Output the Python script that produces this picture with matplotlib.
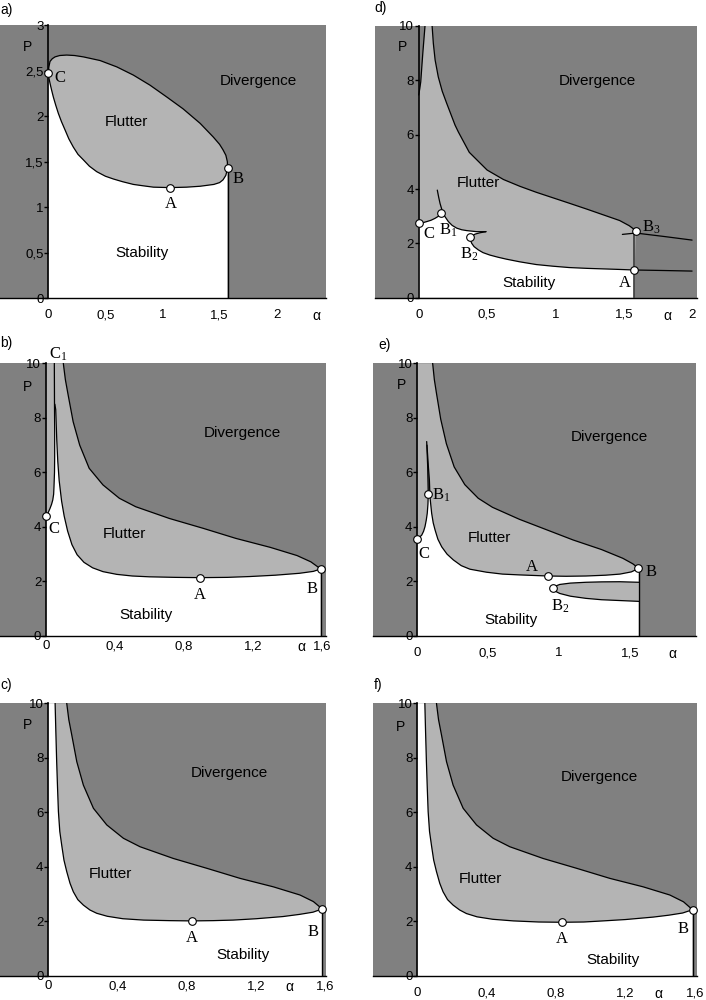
import matplotlib
matplotlib.use('Agg')
import matplotlib.pyplot as plt
from matplotlib.transforms import blended_transform_factory

plt.rcParams['font.family'] = ['Liberation Sans', 'DejaVu Sans']
plt.rcParams['mathtext.fontset'] = 'custom'
plt.rcParams['mathtext.rm'] = 'Liberation Serif'
plt.rcParams['mathtext.it'] = 'Liberation Serif:italic'

DARK = '#808080'
LIGHT = '#b4b4b4'
SERIF = 'Liberation Serif'

# ---------------- data (alpha, P) ----------------
# a)
a_up_alpha = [0.0, 0.005, 0.015, 0.035, 0.059, 0.1, 0.161, 0.23, 0.307, 0.453, 0.6, 0.745,
              0.89, 1.037, 1.18, 1.33, 1.445, 1.5, 1.53, 1.555, 1.568, 1.57]
a_up_P = [2.47, 2.54, 2.6, 2.63, 2.65, 2.665, 2.67, 2.665, 2.65, 2.61, 2.54, 2.45,
          2.34, 2.21, 2.08, 1.92, 1.77, 1.69, 1.63, 1.57, 1.5, 1.43]
a_lo_alpha = [0.0, 0.005, 0.015, 0.028, 0.044, 0.065, 0.088, 0.115, 0.146, 0.18, 0.219, 0.26,
              0.307, 0.36, 0.424, 0.5, 0.569, 0.65, 0.745, 0.83, 0.92, 1.066, 1.212, 1.33,
              1.45, 1.5, 1.53, 1.555, 1.57]
a_lo_P = [2.47, 2.42, 2.36, 2.29, 2.21, 2.12, 2.03, 1.94, 1.85, 1.75, 1.66, 1.58,
          1.52, 1.45, 1.39, 1.34, 1.31, 1.28, 1.25, 1.235, 1.22, 1.215, 1.22, 1.23,
          1.25, 1.27, 1.30, 1.35, 1.43]
a_pt_alpha = [1.066, 1.57, 0.0]
a_pt_P = [1.215, 1.43, 2.47]

# b)
b_up_alpha = [0.1, 0.112, 0.128, 0.157, 0.195, 0.25, 0.33, 0.425, 0.52, 0.715, 0.91, 1.1,
              1.3, 1.455, 1.535, 1.592]
b_up_P = [10, 9.4, 8.84, 7.86, 7.0, 6.15, 5.54, 5.05, 4.74, 4.31, 3.95, 3.58,
          3.25, 2.95, 2.72, 2.46]
b_c_alpha = [0.0, 0.012, 0.023, 0.032, 0.039, 0.044, 0.046, 0.049, 0.05, 0.05, 0.049, 0.048]
b_c_P = [4.4, 4.52, 4.68, 4.83, 4.99, 5.2, 5.47, 6.0, 6.57, 7.5, 8.41, 10]
b_lo_alpha = [0.051, 0.056, 0.062, 0.068, 0.076, 0.09, 0.105, 0.125, 0.15, 0.18, 0.22, 0.27,
              0.33, 0.41, 0.5, 0.6, 0.75, 0.893, 1.05, 1.18, 1.33, 1.47, 1.55, 1.592]
b_lo_P = [8.5, 8.3, 7.2, 6.4, 5.7, 4.95, 4.4, 3.85, 3.35, 2.98, 2.7, 2.5,
          2.36, 2.26, 2.2, 2.17, 2.15, 2.14, 2.15, 2.18, 2.23, 2.3, 2.37, 2.46]
b_pt_alpha = [0.0, 0.893, 1.592]
b_pt_P = [4.4, 2.14, 2.46]

# c)
c_up_alpha = [0.106, 0.118, 0.135, 0.164, 0.202, 0.26, 0.337, 0.433, 0.529, 0.721, 0.914,
              1.106, 1.298, 1.452, 1.529, 1.58]
c_up_P = [10, 9.4, 8.84, 7.86, 7.0, 6.15, 5.54, 5.05, 4.74, 4.31, 3.95,
          3.58, 3.27, 2.97, 2.73, 2.46]
c_lo_alpha = [0.039, 0.043, 0.048, 0.053, 0.058, 0.066, 0.077, 0.09, 0.106, 0.125, 0.144, 0.17,
              0.202, 0.24, 0.279, 0.34, 0.43, 0.55, 0.7, 0.827, 0.95, 1.066, 1.2, 1.354,
              1.45, 1.527, 1.58]
c_lo_P = [10, 9.0, 7.86, 6.9, 6.03, 5.3, 4.8, 4.25, 3.83, 3.4, 3.09, 2.8,
          2.6, 2.42, 2.3, 2.19, 2.1, 2.05, 2.03, 2.02, 2.03, 2.05, 2.1, 2.18,
          2.26, 2.34, 2.46]
c_pt_alpha = [0.827, 1.58]
c_pt_P = [2.02, 2.46]

# d)
d_up_alpha = [0.098, 0.107, 0.12, 0.143, 0.172, 0.205, 0.266, 0.29, 0.37, 0.5, 0.62, 0.74,
              0.86, 0.98, 1.1, 1.23, 1.35, 1.47, 1.54, 1.588]
d_up_P = [10, 9.36, 8.75, 8.13, 7.6, 7.15, 6.35, 6.1, 5.35, 4.7, 4.35, 4.1,
          3.88, 3.68, 3.48, 3.26, 3.05, 2.84, 2.65, 2.47]
d_wedge_alpha = [0.0, 0.008, 0.015, 0.022, 0.03, 0.038, 0.046]
d_wedge_P = [7.46, 7.7, 7.95, 8.45, 9.0, 9.5, 10]
d_c_alpha = [0.0, 0.03, 0.058, 0.09, 0.119, 0.145, 0.16]
d_c_P = [2.74, 2.76, 2.8, 2.85, 2.92, 3.0, 3.1]
d_b1_alpha = [0.136, 0.146, 0.156, 0.166, 0.178, 0.19, 0.217, 0.245, 0.278, 0.315, 0.351,
              0.424, 0.492]
d_b1_P = [3.96, 3.7, 3.47, 3.3, 3.1, 3.0, 2.8, 2.66, 2.56, 2.5, 2.47, 2.43, 2.43]
d_b2_alpha = [0.492, 0.448, 0.412, 0.375, 0.38, 0.388, 0.405, 0.436, 0.47, 0.52, 0.58, 0.64,
              0.74, 0.86, 0.98, 1.1, 1.23, 1.35, 1.47, 1.576]
d_b2_P = [2.43, 2.39, 2.34, 2.22, 2.1, 2.0, 1.88, 1.76, 1.66, 1.57, 1.49, 1.42,
          1.32, 1.22, 1.16, 1.11, 1.08, 1.06, 1.04, 1.02]
d_ar_alpha = [1.576, 1.8, 2.0]
d_ar_P = [1.02, 1.0, 0.98]
d_b3_alpha = [1.49, 1.588, 1.8, 2.0]
d_b3_P = [2.33, 2.38, 2.25, 2.12]
d_pt_alpha = [0.0, 0.16, 0.375, 1.576, 1.588]
d_pt_P = [2.74, 3.1, 2.22, 1.02, 2.47]

# e)
e_up_alpha = [0.108, 0.12, 0.135, 0.165, 0.205, 0.26, 0.335, 0.43, 0.53, 0.72, 0.91, 1.1,
              1.3, 1.45, 1.52, 1.563]
e_up_P = [10, 9.4, 8.9, 7.95, 7.05, 6.2, 5.55, 5.05, 4.72, 4.28, 3.9, 3.52,
          3.17, 2.85, 2.65, 2.48]
e_c_alpha = [0.0, 0.015, 0.031, 0.044, 0.054, 0.063, 0.07, 0.075, 0.077, 0.075, 0.073, 0.066]
e_c_P = [3.56, 3.62, 3.70, 3.84, 4.01, 4.25, 4.5, 4.85, 5.2, 5.7, 6.21, 7.13]
e_r_alpha = [0.068, 0.078, 0.085, 0.089, 0.095, 0.101, 0.112, 0.125, 0.145, 0.172, 0.21,
             0.254, 0.31, 0.371, 0.487, 0.6, 0.722, 0.922, 1.05, 1.19, 1.33, 1.43, 1.51, 1.563]
e_r_P = [7.0, 6.2, 5.72, 5.11, 4.8, 4.5, 4.15, 3.89, 3.55, 3.27, 3.0,
         2.79, 2.58, 2.45, 2.34, 2.27, 2.24, 2.20, 2.19, 2.20, 2.23, 2.27, 2.35, 2.48]
e_strip_alpha = [0.077, 0.075, 0.073, 0.078, 0.085, 0.088]
e_strip_P = [5.2, 5.7, 6.21, 6.2, 5.72, 5.2]
e_lobe_up_alpha = [0.958, 0.975, 1.005, 1.08, 1.19, 1.3, 1.43, 1.563]
e_lobe_up_P = [1.75, 1.83, 1.89, 1.94, 1.97, 1.985, 1.99, 1.97]
e_lobe_lo_alpha = [0.958, 0.975, 1.005, 1.08, 1.19, 1.3, 1.43, 1.563]
e_lobe_lo_P = [1.75, 1.64, 1.56, 1.46, 1.38, 1.33, 1.30, 1.27]
e_pt_alpha = [0.0, 0.077, 0.922, 1.558, 0.958]
e_pt_P = [3.56, 5.2, 2.20, 2.48, 1.75]

# f)
f_up_alpha = [0.11, 0.122, 0.139, 0.168, 0.206, 0.264, 0.341, 0.437, 0.533, 0.725, 0.918,
              1.11, 1.302, 1.456, 1.535, 1.587]
f_up_P = [10, 9.4, 8.84, 7.86, 7.0, 6.15, 5.54, 5.05, 4.74, 4.31, 3.95,
          3.58, 3.27, 2.97, 2.72, 2.43]
f_lo_alpha = [0.043, 0.047, 0.052, 0.057, 0.062, 0.07, 0.081, 0.094, 0.11, 0.129, 0.148, 0.174,
              0.206, 0.244, 0.283, 0.344, 0.434, 0.554, 0.7, 0.835, 0.96, 1.07, 1.2, 1.36,
              1.45, 1.53, 1.587]
f_lo_P = [10, 9.0, 7.86, 6.9, 6.03, 5.3, 4.8, 4.25, 3.83, 3.4, 3.09, 2.8,
          2.6, 2.42, 2.29, 2.17, 2.08, 2.02, 1.98, 1.97, 1.98, 2.02, 2.07, 2.16,
          2.23, 2.31, 2.43]
f_pt_alpha = [0.835, 1.587]
f_pt_P = [1.97, 2.43]

ticks_10 = [0, 2, 4, 6, 8, 10]
ticks_10_lab = ['0', '2', '4', '6', '8', '10']

fig = plt.figure(figsize=(7.06, 10), dpi=100)


def px_rect(x0, x1, ytop, ybot):
    # pixel box -> figure fraction
    return [x0 / 706, 1 - ybot / 1000, (x1 - x0) / 706, (ybot - ytop) / 1000]


def frame(rect, xlim, ylim, xt, xtl, yt, ytl, xpad, alpha_x, p_xy):
    ax = fig.add_axes(rect)
    ax.set_xlim(xlim)
    ax.set_ylim(ylim)
    ax.set_facecolor(DARK)
    ax.spines['top'].set_visible(False)
    ax.spines['right'].set_visible(False)
    ax.spines['left'].set_position(('data', 0))
    ax.spines['left'].set_linewidth(1.2)
    ax.spines['bottom'].set_linewidth(1.0)
    ax.set_xticks(xt)
    ax.set_xticklabels(xtl)
    ax.set_yticks(yt)
    ax.set_yticklabels(ytl)
    ax.tick_params(axis='x', length=0, pad=xpad, labelsize=9.5)
    ax.tick_params(axis='y', length=3, width=1, pad=0.5, labelsize=9.5)
    tr = blended_transform_factory(ax.transData, ax.transAxes)
    ax.annotate('α', xy=(alpha_x, 0), xycoords=tr, xytext=(0, -xpad),
                textcoords='offset points', ha='center', va='top', fontsize=10)
    ax.text(p_xy[0], p_xy[1], 'P', fontsize=10, ha='center', va='center')
    return ax


def curve(ax, xs, ys, color='black', lw=0.9):
    ax.plot(xs, ys, color=color, lw=lw, zorder=3,
            solid_joinstyle='round', solid_capstyle='round')


def dots(ax, xs, ys):
    ax.plot(xs, ys, 'o', ms=5.5, mfc='white', mec='black', mew=0.8,
            zorder=6, clip_on=False)


def words(ax, div, flu, sta):
    ax.text(*div, 'Divergence', fontsize=11, ha='center', va='center')
    ax.text(*flu, 'Flutter', fontsize=11, ha='center', va='center')
    ax.text(*sta, 'Stability', fontsize=11, ha='center', va='center')


def serif(ax, x, y, s):
    ax.text(x, y, s, family=SERIF, fontsize=12, ha='center', va='center', zorder=7)


# ---------------- a) ----------------
ax = frame(px_rect(0, 326, 25, 298.3), (-0.423, 2.432), (0, 3),
           [0, 0.5, 1, 1.5, 2], ['0', '0,5', '1', '1,5', '2'],
           [0, 0.5, 1, 1.5, 2, 2.5, 3], ['0', '0,5', '1', '1,5', '2', '2,5', '3'],
           8, 2.35, (-0.18, 2.76))
ax.fill(a_up_alpha + a_lo_alpha[::-1], a_up_P + a_lo_P[::-1], color=LIGHT, lw=0, zorder=1)
ax.fill([0] + a_lo_alpha + [a_lo_alpha[-1]], [0] + a_lo_P + [0], color='white', lw=0, zorder=1)
curve(ax, a_up_alpha, a_up_P)
curve(ax, a_lo_alpha, a_lo_P)
curve(ax, [a_pt_alpha[1], a_pt_alpha[1]], [0, a_pt_P[1]], lw=1.0)
dots(ax, a_pt_alpha, a_pt_P)
words(ax, (1.84, 2.39), (0.68, 1.94), (0.82, 0.50))
serif(ax, 1.07, 1.04, 'A')
serif(ax, 1.66, 1.31, 'B')
serif(ax, 0.10, 2.42, 'C')

# ---------------- d) ----------------
ax = frame(px_rect(374.7, 697, 26, 297.7), (-0.322, 2.036), (0, 10),
           [0, 0.5, 1, 1.5, 2], ['0', '0,5', '1', '1,5', '2'],
           ticks_10, ticks_10_lab, 8, 1.82, (-0.122, 9.24))
ax.fill([0, 0] + d_up_alpha + [d_pt_alpha[3]], [0, 10] + d_up_P + [0],
        color=LIGHT, lw=0, zorder=1)
ax.fill(d_wedge_alpha + [0], d_wedge_P + [10], color=DARK, lw=0, zorder=1)
white_a = [0] + d_c_alpha + d_b1_alpha[4:] + d_b2_alpha[1:] + [d_b2_alpha[-1]]
white_p = [0] + d_c_P + d_b1_P[4:] + d_b2_P[1:] + [0]
ax.fill(white_a, white_p, color='white', lw=0, zorder=1)
curve(ax, d_up_alpha, d_up_P)
curve(ax, d_wedge_alpha, d_wedge_P)
curve(ax, d_c_alpha, d_c_P)
curve(ax, d_b1_alpha, d_b1_P)
curve(ax, d_b2_alpha, d_b2_P)
curve(ax, d_ar_alpha, d_ar_P)
curve(ax, d_b3_alpha, d_b3_P)
curve(ax, [d_pt_alpha[3], d_pt_alpha[3]], [0, 2.35], color='#3a3a3a', lw=1.2)
dots(ax, d_pt_alpha, d_pt_P)
words(ax, (1.31, 7.98), (0.434, 4.23), (0.807, 0.55))
serif(ax, 0.076, 2.33, 'C')
serif(ax, 0.215, 2.49, r'B$_{\mathrm{1}}$')
serif(ax, 0.373, 1.61, r'B$_{\mathrm{2}}$')
serif(ax, 1.507, 0.53, 'A')
serif(ax, 1.70, 2.58, r'B$_{\mathrm{3}}$')

# ---------------- b) ----------------
ax = frame(px_rect(0, 326, 363.3, 636), (-0.267, 1.623), (0, 10),
           [0, 0.4, 0.8, 1.2, 1.6], ['0', '0,4', '0,8', '1,2', '1,6'],
           ticks_10, ticks_10_lab, 3, 1.48, (-0.106, 9.14))
ax.fill([0, 0] + b_up_alpha + [b_up_alpha[-1]], [0, 10] + b_up_P + [0],
        color=LIGHT, lw=0, zorder=1)
ax.fill([0] + b_c_alpha[:11] + b_lo_alpha + [b_lo_alpha[-1]],
        [0] + b_c_P[:11] + b_lo_P + [0], color='white', lw=0, zorder=1)
curve(ax, b_up_alpha, b_up_P)
curve(ax, b_c_alpha, b_c_P)
curve(ax, b_lo_alpha, b_lo_P)
curve(ax, [b_pt_alpha[2], b_pt_alpha[2]], [0, b_pt_P[2]], lw=1.0)
dots(ax, b_pt_alpha, b_pt_P)
words(ax, (1.14, 7.46), (0.452, 3.74), (0.578, 0.77))
serif(ax, 0.893, 1.50, 'A')
serif(ax, 1.54, 1.71, 'B')
serif(ax, 0.048, 3.91, 'C')
serif(ax, 0.068, 10.33, r'C$_{\mathrm{1}}$')

# ---------------- e) ----------------
ax = frame(px_rect(373, 696.3, 363.3, 636), (-0.313, 1.969), (0, 10),
           [0, 0.5, 1, 1.5], ['0', '0,5', '1', '1,5'],
           ticks_10, ticks_10_lab, 8, 1.80, (-0.113, 9.2))
ax.fill([0, 0] + e_up_alpha + [e_up_alpha[-1]], [0, 10] + e_up_P + [0],
        color=LIGHT, lw=0, zorder=1)
ax.fill([0] + e_c_alpha[:9] + e_r_alpha[3:] + [e_r_alpha[-1]],
        [0] + e_c_P[:9] + e_r_P[3:] + [0], color='white', lw=0, zorder=1)
ax.fill(e_strip_alpha, e_strip_P, color='#6e6e6e', lw=0, zorder=1)
ax.fill(e_lobe_up_alpha + e_lobe_lo_alpha[::-1], e_lobe_up_P + e_lobe_lo_P[::-1],
        color=LIGHT, lw=0, zorder=1)
curve(ax, e_up_alpha, e_up_P)
curve(ax, e_c_alpha, e_c_P)
curve(ax, e_r_alpha, e_r_P)
curve(ax, e_lobe_up_alpha, e_lobe_up_P)
curve(ax, e_lobe_lo_alpha, e_lobe_lo_P)
curve(ax, [e_up_alpha[-1], e_up_alpha[-1]], [0, e_up_P[-1]], lw=1.0)
dots(ax, e_pt_alpha, e_pt_P)
words(ax, (1.358, 7.31), (0.51, 3.58), (0.664, 0.59))
serif(ax, 0.81, 2.52, 'A')
serif(ax, 1.652, 2.36, 'B')
serif(ax, 0.169, 5.17, r'B$_{\mathrm{1}}$')
serif(ax, 1.005, 1.10, r'B$_{\mathrm{2}}$')
serif(ax, 0.047, 3.0, 'C')

# ---------------- c) ----------------
ax = frame(px_rect(0, 326, 703.3, 976), (-0.279, 1.602), (0, 10),
           [0, 0.4, 0.8, 1.2, 1.6], ['0', '0,4', '0,8', '1,2', '1,6'],
           ticks_10, ticks_10_lab, 3, 1.39, (-0.119, 9.2))
ax.fill([0, 0] + c_up_alpha + [c_up_alpha[-1]], [0, 10] + c_up_P + [0],
        color=LIGHT, lw=0, zorder=1)
ax.fill([0, 0] + c_lo_alpha + [c_lo_alpha[-1]], [0, 10] + c_lo_P + [0],
        color='white', lw=0, zorder=1)
curve(ax, c_up_alpha, c_up_P)
curve(ax, c_lo_alpha, c_lo_P)
curve(ax, [c_pt_alpha[1], c_pt_alpha[1]], [0, c_pt_P[1]], lw=1.0)
dots(ax, c_pt_alpha, c_pt_P)
words(ax, (1.044, 7.46), (0.356, 3.73), (1.125, 0.77))
serif(ax, 0.827, 1.38, 'A')
serif(ax, 1.525, 1.63, 'B')

# ---------------- f) ----------------
ax = frame(px_rect(373, 696.7, 703.3, 976), (-0.256, 1.611), (0, 10),
           [0, 0.4, 0.8, 1.2, 1.6], ['0', '0,4', '0,8', '1,2', '1,6'],
           ticks_10, ticks_10_lab, 8, 1.39, (-0.096, 9.14))
ax.fill([0, 0] + f_up_alpha + [f_up_alpha[-1]], [0, 10] + f_up_P + [0],
        color=LIGHT, lw=0, zorder=1)
ax.fill([0, 0] + f_lo_alpha + [f_lo_alpha[-1]], [0, 10] + f_lo_P + [0],
        color='white', lw=0, zorder=1)
curve(ax, f_up_alpha, f_up_P)
curve(ax, f_lo_alpha, f_lo_P)
curve(ax, [f_pt_alpha[1], f_pt_alpha[1]], [0, f_pt_P[1]], lw=1.0)
dots(ax, f_pt_alpha, f_pt_P)
words(ax, (1.052, 7.29), (0.363, 3.55), (1.129, 0.59))
serif(ax, 0.835, 1.34, 'A')
serif(ax, 1.533, 1.71, 'B')

# panel tags
for tag, x, y in [('a)', 0, 10), ('d)', 374, 8), ('b)', 0, 343),
                  ('e)', 378, 345), ('c)', 0, 685), ('f)', 374, 685)]:
    fig.text(x / 706, 1 - y / 1000, tag, fontsize=10, ha='left', va='center')

fig.savefig('out.png', dpi=100)
